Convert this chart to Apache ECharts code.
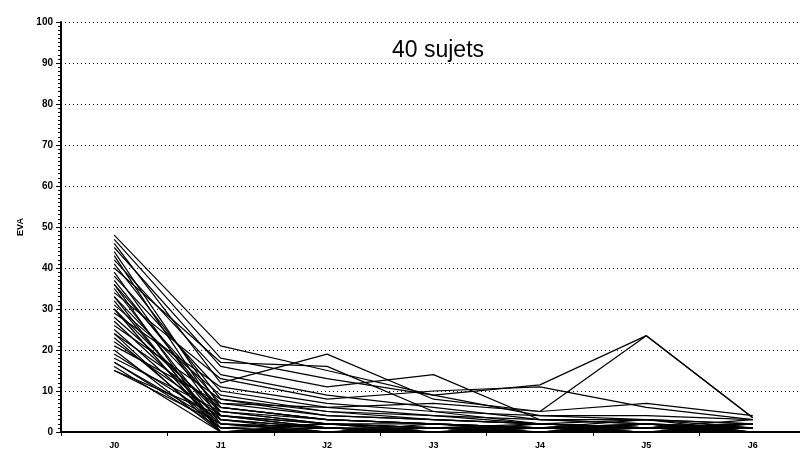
<!DOCTYPE html>
<html>
<head>
<meta charset="utf-8">
<script src="https://cdn.jsdelivr.net/npm/echarts@6/dist/echarts.min.js"></script>
<style>html,body{margin:0;padding:0;background:#fff;overflow:hidden;}#c{width:806px;height:453px;}</style>
</head>
<body>
<div id="c"></div>
<script>
var categories = ['J0', 'J1', 'J2', 'J3', 'J4', 'J5', 'J6'];
var yTicks = [0, 10, 20, 30, 40, 50, 60, 70, 80, 90, 100];
// one value per subject (40 subjects) for each day
var j0 = [48, 47, 46, 45, 44, 43, 42, 41, 40, 39, 38, 37, 36, 36, 35, 34, 33, 33, 32, 31, 30, 30, 29, 28, 27, 26, 25, 24, 24, 23, 22, 21, 20, 19, 18, 17, 17, 16, 15, 15];
var j1 = [21, 18, 12, 16, 6, 4, 14, 8, 17, 3, 10, 5, 0, 7, 2, 13, 0, 6, 1, 9, 4, 0, 11, 5, 3, 8, 2, 0, 6, 1, 4, 7, 0, 3, 5, 2, 1, 0, 4, 2];
var j2 = [15, 13, 19, 11, 3, 2, 9, 5, 16, 1, 6, 3, 2, 4, 1, 8, 0, 3, 2, 5, 1, 0, 7, 2, 1, 4, 0, 1, 3, 0, 2, 6, 1, 0, 2, 1, 0, 2, 1, 0];
var j3 = [9, 9, 8, 14, 2, 1, 6, 3, 5, 0, 4, 2, 1, 3, 0, 10, 1, 2, 0, 4, 1, 0, 5, 1, 0, 3, 1, 0, 2, 1, 0, 7, 0, 1, 2, 0, 1, 1, 0, 2];
var j4 = [4, 11.5, 5, 3, 1, 0, 3, 2, 2, 1, 2, 1, 0, 2, 1, 11, 0, 1, 0, 3, 1, 0, 4, 0, 1, 2, 0, 1, 1, 0, 1, 5, 0, 2, 1, 0, 0, 1, 2, 0];
var j5 = [3, 23.5, 23.5, 3, 1, 2, 2, 1, 1, 0, 3, 1, 2, 1, 0, 6, 1, 0, 1, 2, 0, 1, 4, 0, 2, 1, 0, 3, 1, 0, 2, 7, 0, 1, 1, 0, 2, 0, 1, 0];
var j6 = [2, 3.5, 3.5, 1, 1, 0, 1, 2, 0, 1, 2, 0, 1, 3, 0, 3, 1, 2, 0, 1, 0, 2, 3, 1, 0, 2, 1, 0, 2, 1, 0, 4, 1, 0, 2, 1, 0, 1, 0, 2];

var days = [j0, j1, j2, j3, j4, j5, j6];
var series = [];
for (var i = 0; i < j0.length; i++) {
  series.push({
    type: 'line',
    name: 'S' + (i + 1),
    data: days.map(function (d) { return d[i]; }),
    symbol: 'none',
    lineStyle: { color: '#000', width: 1.2 },
    silent: true
  });
}

var chart = echarts.init(document.getElementById('c'), null, { renderer: 'canvas' });
chart.setOption({
  animation: false,
  backgroundColor: '#fff',
  title: {
    text: '40 sujets',
    left: 387,
    top: 34,
    textStyle: { fontFamily: 'Liberation Sans', fontSize: 23, fontWeight: 'normal', color: '#000' }
  },
  grid: { left: 61, top: 22, right: 0, bottom: 21, containLabel: false },
  xAxis: {
    type: 'category',
    data: categories,
    boundaryGap: true,
    axisLine: { lineStyle: { color: '#000', width: 2 } },
    axisTick: { show: true, length: 4, lineStyle: { color: '#000', width: 1 } },
    axisLabel: { color: '#000', fontSize: 9, fontWeight: 'bold', fontFamily: 'Liberation Sans', margin: 9 },
    splitLine: { show: false }
  },
  yAxis: {
    type: 'value',
    min: 0,
    max: 100,
    interval: 10,
    name: 'EVA',
    nameLocation: 'middle',
    nameGap: 24,
    nameRotate: 90,
    nameTextStyle: { color: '#000', fontSize: 9, fontWeight: 'bold', fontFamily: 'Liberation Sans' },
    axisLine: { show: true, lineStyle: { color: '#000', width: 2 } },
    axisTick: { show: true, length: 5, lineStyle: { color: '#000', width: 1 } },
    minorTick: { show: true, splitNumber: 10, length: 3, lineStyle: { color: '#000', width: 1 } },
    axisLabel: {
      color: '#000', fontSize: 10, fontWeight: 'bold', fontFamily: 'Liberation Sans', margin: 8,
      formatter: function (v) { return yTicks.indexOf(v) >= 0 ? String(v) : ''; }
    },
    splitLine: { show: true, lineStyle: { color: '#000', width: 1, type: [1, 3] } }
  },
  series: series
});
</script>
</body>
</html>
